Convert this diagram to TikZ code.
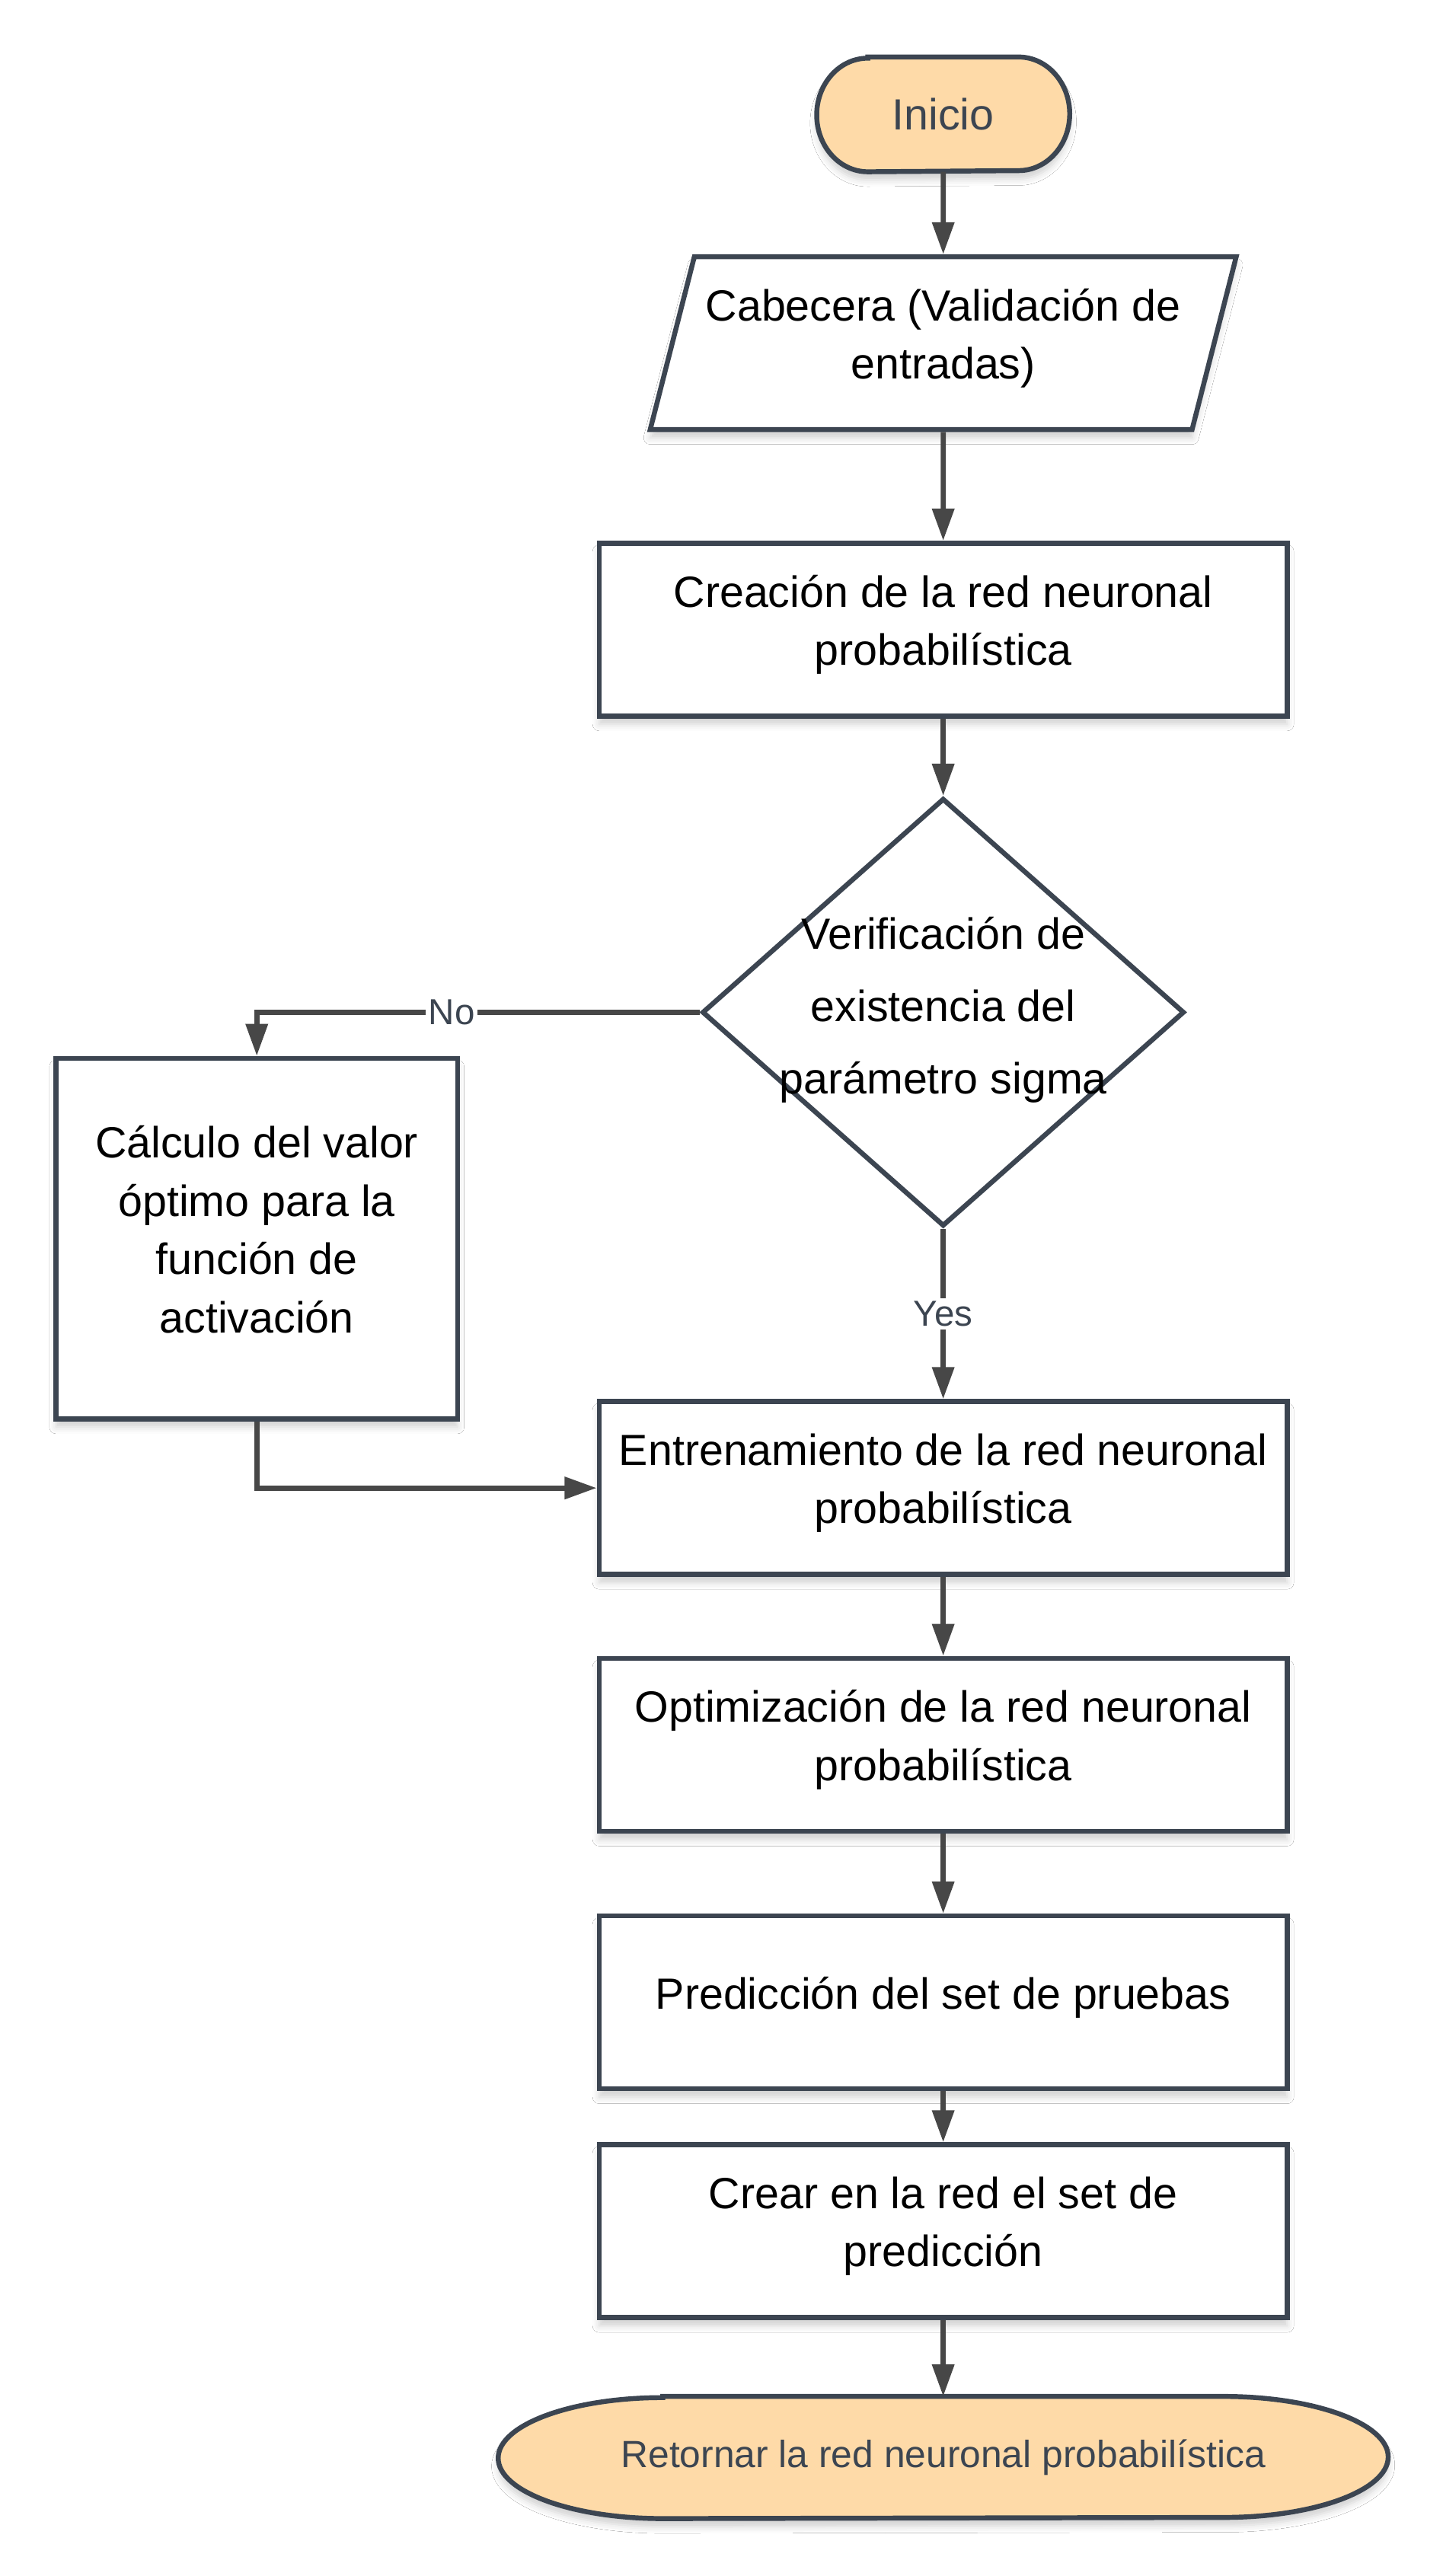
\documentclass[tikz,border=0pt]{standalone}
\usepackage{fontspec}
\setmainfont{Liberation Sans}
\usetikzlibrary{shapes.geometric,arrows.meta,shadows.blur,backgrounds}
\definecolor{edgeline}{RGB}{60,69,81}
\definecolor{arrowline}{RGB}{71,71,71}
\definecolor{peach}{RGB}{254,218,168}

\begin{document}
\begin{tikzpicture}
  \tikzstyle{softshadow}=[blur shadow={shadow xshift=0pt, shadow yshift=-0.1cm, shadow blur radius=0.08cm, shadow opacity=18}]
  \tikzstyle{block}=[rectangle, draw=edgeline, line width=1.7pt, fill=white, softshadow, align=center, inner sep=0pt, text depth=6.5pt, minimum width=8.36cm, minimum height=2.1cm, font=\fontsize{15.1pt}{20.2pt}\selectfont]
  \tikzstyle{io}=[block, trapezium, trapezium left angle=75.6, trapezium right angle=104.4, trapezium stretches body, inner ysep=0.38cm, minimum width=7.12cm]
  \tikzstyle{decision}=[diamond, draw=edgeline, line width=1.7pt, fill=white, inner sep=0pt, minimum width=5.86cm, minimum height=5.2cm]
  \tikzstyle{terminal}=[rectangle, inner sep=0pt, text=edgeline]
  \tikzstyle{termline}=[draw=edgeline, line width=1.7pt, fill=peach, softshadow]
  \tikzstyle{flow}=[draw=arrowline, line width=1.8pt, -{Triangle[length=0.39cm, width=0.26cm]}]
  \tikzstyle{tag}=[fill=white, inner sep=1pt, text=edgeline, font=\fontsize{12.5pt}{15pt}\selectfont]

  \node[terminal, minimum width=3.06cm, minimum height=1.38cm, font=\fontsize{15.1pt}{20pt}\selectfont] (inicio) at (11.46, -1.39) {Inicio};
  \node[io] (cabecera) at (11.46, -4.17) {Cabecera (Validación de\\entradas)};
  \node[block] (creacion) at (11.46, -7.65) {Creación de la red neuronal\\probabilística};
  \node[decision] (verif) at (11.46, -12.30) {};
  \node[align=center, text depth=5pt, font=\fontsize{15.1pt}{25pt}\selectfont] (veriftxt) at (verif) {Verificación de\\existencia del\\parámetro sigma};
  \node[block, minimum width=4.88cm, minimum height=4.38cm] (calculo) at (3.12, -15.05) {Cálculo del valor\\óptimo para la\\función de\\activación};
  \node[block] (entren) at (11.46, -18.08) {Entrenamiento de la red neuronal\\probabilística};
  \node[block] (optim) at (11.46, -21.20) {Optimización de la red neuronal\\probabilística};
  \node[block] (pred) at (11.46, -24.33) {Predicción del set de pruebas};
  \node[block] (crear) at (11.46, -27.11) {Crear en la red el set de\\predicción};
  \node[terminal, minimum width=10.8cm, minimum height=1.47cm, font=\fontsize{13.1pt}{16pt}\selectfont] (retorno) at (11.46, -29.86) {Retornar la red neuronal probabilística};

  \path (inicio) edge[flow] (cabecera);
  \path (cabecera) edge[flow] (creacion);
  \path (creacion) edge[flow] (verif);
  \path (verif) edge[flow] node[tag] {Yes} (entren);
  \draw[flow] (verif.west) -| node[tag, pos=0.28] {No} (calculo.north);
  \draw[flow] (calculo.south) |- (entren.west);
  \path (entren) edge[flow] (optim);
  \path (optim) edge[flow] (pred);
  \path (pred) edge[flow] (crear);
  \path (crear) edge[flow] (retorno);

  \begin{scope}[on background layer]
    \fill [white] (0, 0) rectangle (17.524, -31.3);  % margins
    \path[termline] ([xshift=0.62cm]inicio.north west) -- ([xshift=-0.62cm]inicio.north east)
      arc[start angle=90, end angle=-90, x radius=0.62cm, y radius=0.69cm]
      -- ([xshift=0.62cm]inicio.south west)
      arc[start angle=270, end angle=90, x radius=0.62cm, y radius=0.69cm] -- cycle;
    \path[termline] ([xshift=2cm]retorno.north west) -- ([xshift=-2cm]retorno.north east)
      arc[start angle=90, end angle=-90, x radius=2cm, y radius=0.735cm]
      -- ([xshift=2cm]retorno.south west)
      arc[start angle=270, end angle=90, x radius=2cm, y radius=0.735cm] -- cycle;
  \end{scope}
\end{tikzpicture}
\end{document}
